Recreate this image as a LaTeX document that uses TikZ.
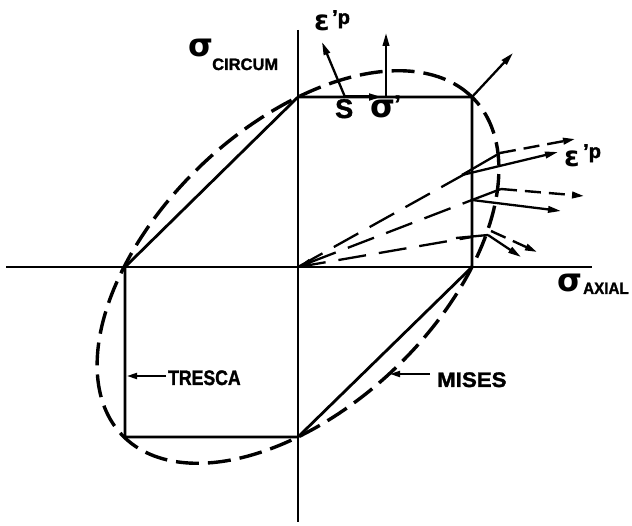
\documentclass[tikz,border=0pt]{standalone}
\usepackage{fontspec}
\setmainfont{Liberation Sans}[BoldFeatures={FakeBold=1.6}]
\newfontfamily\gkfont{DejaVu Sans}
\usetikzlibrary{arrows.meta}
\newcommand\mysig[1]{{\gkfont\bfseries\fontsize{#1}{#1}\selectfont σ}}
\newcommand\myeps[1]{{\gkfont\bfseries\fontsize{#1}{#1}\selectfont ε}}
\begin{document}
\begin{tikzpicture}[x=1pt,y=-1pt,
  axis/.style={line width=1.6pt},
  tresca/.style={line width=2.8pt, line join=miter},
  mises/.style={line width=3.4pt, dash pattern=on 23pt off 9pt},
  vec/.style={line width=2.3pt,-{Triangle[length=13pt,width=6.5pt]}},
  dvec/.style={line width=2.4pt,dash pattern=on 16pt off 8pt,-{Triangle[length=12pt,width=6.5pt]}},
  radial/.style={line width=2.3pt,dash pattern=on 28pt off 13pt},
  lbl/.style={font=\bfseries\fontsize{21}{21}\selectfont, inner sep=0pt, anchor=base west},
  sub/.style={font=\bfseries\fontsize{16.5}{16.5}\selectfont, inner sep=0pt, anchor=base west},
  gl/.style={inner sep=0pt, anchor=base west},
]
\useasboundingbox (0,0) rectangle (632,526);
% key points
\coordinate (O) at (298,267);
\coordinate (A) at (298,97);
\coordinate (B) at (472,97);
\coordinate (C) at (472,267);
\coordinate (D) at (298,437);
\coordinate (E) at (125,437);
\coordinate (F) at (125,267);
% axes
\coordinate (ytop) at (298,30);
\coordinate (ybot) at (298,522);
\coordinate (xl) at (6,267);
\coordinate (xr) at (592,267);
\draw[axis] (ytop) -- (ybot);
\draw[axis] (xl) -- (xr);
% Tresca hexagon
\draw[tresca] (A) -- (B) -- (C) -- (D) -- (E) -- (F) -- cycle;
% Mises ellipse
\draw[mises] plot[domain=0:360,samples=140,smooth]
  ({298+174*(cos(\x)-sin(\x)/sqrt(3))},{267-170*(cos(\x)+sin(\x)/sqrt(3))});
% top vectors
\coordinate (S) at (345,97);
\coordinate (Sr) at (382,97);
\coordinate (epsT) at (322,42);
\coordinate (sg) at (386,97);
\coordinate (sgT) at (386,33);
\coordinate (BT) at (513,53);
\draw[vec, line width=3pt] (S) -- (Sr);
\draw[vec] (S) -- (epsT);
\draw[vec] (sg) -- (sgT);
\draw[vec] (B) -- (BT);
% right side groups
\coordinate (T1) at (472,170);
\coordinate (T1a) at (462,175);
\coordinate (E1) at (500,153);
\coordinate (N1) at (558,152);
\coordinate (M1) at (575,139);
\coordinate (T2) at (472,200);
\coordinate (E2) at (501,189);
\coordinate (N2) at (561,211);
\coordinate (M2) at (584,196);
\coordinate (T3) at (472,237);
\coordinate (T3a) at (456,238);
\coordinate (E3) at (488,235);
\coordinate (N3) at (521,257);
\coordinate (E3b) at (491,231);
\coordinate (M3) at (537,252);
\draw[radial] (O) -- (T1);
\draw[radial, {Triangle[length=13pt,width=6.5pt]}-] (O) -- (T2);
\draw[radial] (O) -- (T3);
\draw[line width=2.3pt] (T1a) -- (E1);
\draw[line width=2.3pt] (T2) -- (E2);
\draw[line width=2.3pt] (T3a) -- (E3);
\draw[vec] (T1a) -- (N1);
\draw[dvec] (E1) -- (M1);
\draw[vec] (T2) -- (N2);
\draw[dvec] (E2) -- (M2);
\draw[vec] (E3) -- (N3);
\draw[dvec] (E3b) -- (M3);
% labels
\node[gl] (sc) at (188,57) {\mysig{32}};
\node[sub] (scs) at (212,70) {CIRCUM};
\node[gl] (sa) at (557,292) {\mysig{32}};
\node[sub, xscale=0.92] (sas) at (583,294) {AXIAL};
\node[lbl, font=\bfseries\fontsize{27}{27}\selectfont] (Sl) at (335,118) {S};
\node[gl] (sp) at (370,118) {\mysig{32}};
\node[lbl, font=\bfseries\fontsize{24}{24}\selectfont] (spp) at (394,112) {'};
\node[gl] (et) at (314,31) {\myeps{28}};
\node[lbl, font=\bfseries\fontsize{20}{20}\selectfont] (etp) at (332,24) {'p};
\node[gl] (er) at (564,167) {\myeps{28}};
\node[lbl, font=\bfseries\fontsize{20}{20}\selectfont] (erp) at (583,158) {'p};
% Tresca and Mises labels
\node[lbl, xscale=0.84] (tr) at (168,385) {TRESCA};
\coordinate (trt) at (127,376);
\draw[vec, line width=1.8pt, -{Triangle[length=10pt,width=6pt]}] (166,376) -- (trt);
\node[lbl, xscale=1.06] (mi) at (437,387) {MISES};
\coordinate (mit) at (390,374);
\draw[vec, line width=1.8pt, -{Triangle[length=10pt,width=6pt]}] (430,374) -- (mit);
\end{tikzpicture}
\end{document}
